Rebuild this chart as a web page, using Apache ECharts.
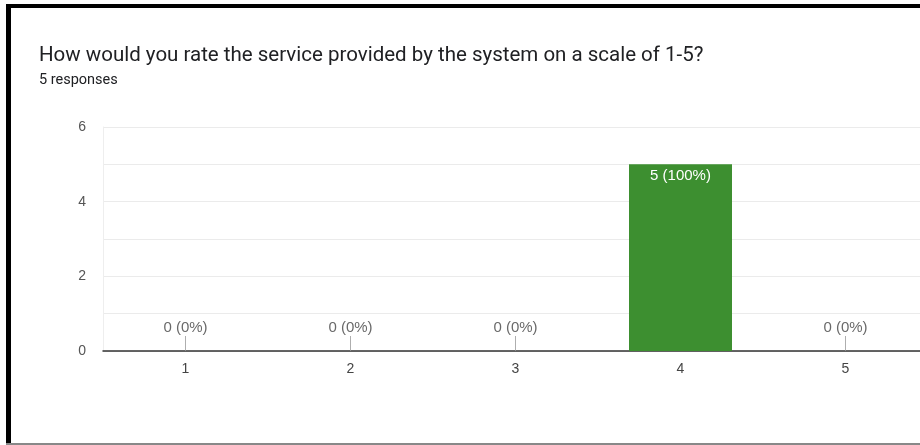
<!DOCTYPE html>
<html>
<head>
<meta charset="utf-8">
<script src="https://cdn.jsdelivr.net/npm/echarts@6/dist/echarts.min.js"></script>
<style>
html,body{margin:0;padding:0;background:#fff;}
#chart{width:920px;height:445px;}
</style>
</head>
<body>
<div id="chart"></div>
<script>
var titleText = "How would you rate the service provided by the system on a scale of 1-5?";
var subText = "5 responses";
var categories = ["1", "2", "3", "4", "5"];
var counts = [0, 0, 0, 5, 0];
var yTicks = [0, 2, 4, 6];

var total = counts.reduce(function (a, b) { return a + b; }, 0);
function pct(v) { return Math.round(v / total * 100); }

var zeroPoints = [];
counts.forEach(function (v, i) { if (v === 0) zeroPoints.push([i, v]); });

var chart = echarts.init(document.getElementById('chart'));
chart.setOption({
  backgroundColor: '#fff',
  animation: false,
  title: [
    {
      text: titleText,
      left: 34,
      top: 40,
      textStyle: { fontFamily: 'Roboto', fontSize: 20.5, fontWeight: 'normal', color: '#202124' }
    },
    {
      text: subText,
      left: 34,
      top: 68,
      textStyle: { fontFamily: 'Roboto', fontSize: 14.5, fontWeight: 'normal', color: '#202124' }
    }
  ],
  graphic: [
    { type: 'rect', shape: { x: 6, y: 4, width: 914, height: 4 }, style: { fill: '#000' }, silent: true },
    { type: 'rect', shape: { x: 6, y: 4, width: 5, height: 441 }, style: { fill: '#000' }, silent: true },
    { type: 'rect', shape: { x: 6, y: 443, width: 914, height: 2 }, style: { fill: '#888' }, silent: true }
  ],
  grid: { left: 103, width: 825, top: 127, bottom: 94, containLabel: false, outerBoundsMode: 'none' },
  xAxis: {
    type: 'category',
    data: categories,
    axisLine: { lineStyle: { color: '#333', width: 1.5 } },
    axisTick: { show: false },
    axisLabel: { color: '#444', fontFamily: 'Liberation Sans', fontSize: 14, margin: 11 }
  },
  yAxis: {
    type: 'value',
    min: 0, max: 6, interval: 1,
    axisLine: { show: true, lineStyle: { color: '#eeeeee' } },
    axisTick: { show: false },
    splitLine: { lineStyle: { color: '#ebebeb' } },
    axisLabel: {
      color: '#555', fontFamily: 'Liberation Sans', fontSize: 14, margin: 17,
      formatter: function (v) { return yTicks.indexOf(v) >= 0 ? String(v) : ''; }
    }
  },
  series: [
    {
      type: 'bar',
      data: counts,
      barWidth: 103,
      itemStyle: { color: '#3d8f30' },
      label: {
        show: true,
        position: 'insideTop',
        distance: 4,
        color: '#fff',
        fontFamily: 'Liberation Sans',
        fontSize: 15,
        formatter: function (p) { return p.value > 0 ? p.value + ' (' + pct(p.value) + '%)' : ''; }
      }
    },
    {
      type: 'scatter',
      data: zeroPoints,
      symbol: 'rect',
      symbolSize: [1, 15],
      symbolOffset: [0, '-50%'],
      itemStyle: { color: '#9a9a9a' },
      z: 5,
      label: {
        show: true,
        position: 'top',
        distance: 1,
        color: '#444',
        fontFamily: 'Liberation Sans',
        fontSize: 15,
        formatter: function (p) { return p.value[1] + ' (' + pct(p.value[1]) + '%)'; }
      }
    }
  ]
});
</script>
</body>
</html>
